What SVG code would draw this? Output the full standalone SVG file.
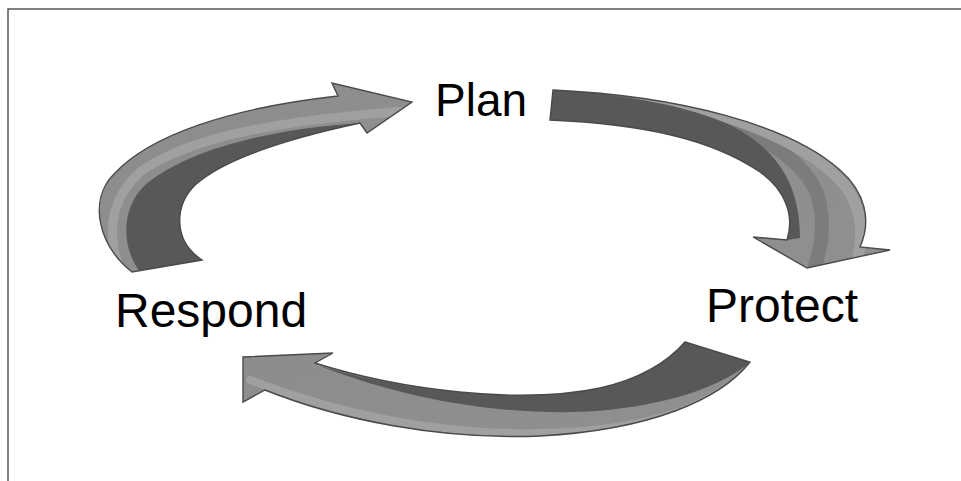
<svg xmlns="http://www.w3.org/2000/svg" xmlns:xlink="http://www.w3.org/1999/xlink" width="961" height="481" viewBox="0 0 961 481">
<style>
.lbl{font-family:"Liberation Sans",Arial,sans-serif;font-size:48px;fill:#000}
.base{fill:url(#gBase)}
.band{fill:none;stroke:#a0a0a2;stroke-linecap:round}
.mid{fill:none;stroke:#7c7c7e;stroke-linecap:round}
.dark{fill:#58585a}
.outline{fill:none;stroke:#4a4a4a;stroke-width:1.4;stroke-linejoin:miter}
.frame{fill:none;stroke:#555;stroke-width:1.5}
</style>
<defs>
<linearGradient id="gBase" x1="0" y1="0" x2="1" y2="1">
<stop offset="0" stop-color="#8c8c8e"/>
<stop offset="1" stop-color="#909092"/>
</linearGradient>
<path id="shA" d="M132,272 C98,245 88,200 114,174 C150,135 230,108 338,96 L332,83 L412,102 L367,133 L360,123 C290,138 225,158 195,185 C175,205 172,240 202,260 Z"/>
<path id="shB" d="M553,90 C680,96 790,125 840,170 C865,192 872,220 860,247 L890,250 L807,268 L753,237 L787,240 C795,215 785,190 760,172 C710,138 640,124 550,120 Z"/>
<path id="shC" d="M685,342 L750,362 C720,400 650,430 540,436 C440,440 340,420 265,390 L243,402 L243,357 L333,353 L315,363 C400,390 520,405 600,388 C635,380 665,365 685,342 Z"/>
<clipPath id="cA"><use xlink:href="#shA"/></clipPath>
<clipPath id="cB"><use xlink:href="#shB"/></clipPath>
<clipPath id="cC"><use xlink:href="#shC"/></clipPath>
</defs>
<rect width="961" height="481" fill="#fff"/>
<path class="frame" d="M8,481 L8,9 L961,9"/>
<g id="connectors">
<g id="arrow-respond-plan">
<use xlink:href="#shA" class="base"/>
<g clip-path="url(#cA)">
<path class="band" stroke-width="9" d="M122,275 C104,232 112,198 140,172 C190,136 280,120 420,110"/>
<path class="dark" d="M202,260 C172,240 175,205 195,185 C225,158 290,138 360,123 C260,130 185,152 145,185 C122,207 120,245 140,272 Z"/>
</g>
<use xlink:href="#shA" class="outline"/>
</g>
<g id="arrow-plan-protect">
<use xlink:href="#shB" class="base"/>
<g clip-path="url(#cB)">
<path class="mid" stroke-width="14" d="M700,112 C770,135 815,170 820,205 C824,225 822,245 815,265"/>
<path class="band" stroke-width="11" d="M640,98 C720,108 810,142 846,187 C864,212 864,240 854,272"/>
<path class="dark" d="M553,90 C620,93 690,106 732,126 C778,150 800,185 800,238 L787,240 C795,215 785,190 760,172 C710,138 640,124 550,120 Z"/>
</g>
<use xlink:href="#shB" class="outline"/>
</g>
<g id="arrow-protect-respond">
<use xlink:href="#shC" class="base"/>
<g clip-path="url(#cC)">
<path class="band" stroke-width="8" d="M748,372 C700,412 640,431 540,433 C440,435 340,415 250,380"/>
<path class="dark" d="M685,342 L750,362 C725,385 670,405 597,411 C520,416 420,405 320,366 C400,390 520,405 600,388 C635,380 665,365 685,342 Z"/>
</g>
<use xlink:href="#shC" class="outline"/>
</g>
</g>
<g id="node-plan"><text class="lbl" x="435" y="116" style="font-size:46px">Plan</text></g>
<g id="node-protect"><text class="lbl" x="706" y="322">Protect</text></g>
<g id="node-respond"><text class="lbl" x="115" y="327">Respond</text></g>
</svg>
